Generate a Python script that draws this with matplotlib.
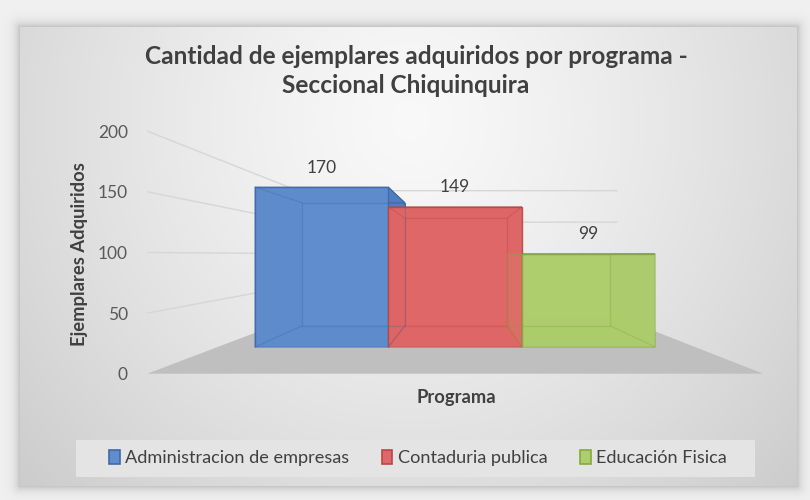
import numpy as np
import matplotlib
matplotlib.use("Agg")
import matplotlib.pyplot as plt
from matplotlib.patches import Polygon, Rectangle, Patch

# ---------------- data ----------------
categories = ["Administracion de empresas", "Contaduria publica", "Educación Fisica"]
values = [170, 149, 99]
y_ticks = [0, 50, 100, 150, 200]
title_lines = ["Cantidad de ejemplares adquiridos por programa -", "Seccional Chiquinquira"]
x_label = "Programa"
y_label = "Ejemplares Adquiridos"

# ---------------- style ----------------
face_cols = ["#5F8DCE", "#E06767", "#AECD6D"]
side_cols = ["#4F7DBE", "#CF5959", "#9CBD5D"]
edge_cols = ["#3F6AA6", "#B84747", "#86A845"]
FONT = "Lato"
plt.rcParams["font.family"] = [FONT, "DejaVu Sans"]

W, H = 810, 500
fig = plt.figure(figsize=(W / 100, H / 100), dpi=100)

# ---------------- background (frame with gradient and shadow) ----------------
bg = fig.add_axes([0, 0, 1, 1], zorder=-10)
bg.set_axis_off()
yy, xx = np.mgrid[0:H, 0:W].astype(float)
x0, x1, y0, y1 = 20, 796, 27, 485
d = np.sqrt(((xx - 410) / 420) ** 2 + ((yy - 120) / 430) ** 2)
inner = 0.975 - 0.13 * d ** 1.3
dx = np.maximum(np.maximum(x0 - xx, xx - x1), 0)
dy = np.maximum(np.maximum(y0 - yy, yy - y1), 0)
dist = np.sqrt(dx ** 2 + dy ** 2)
outside = 0.945 - 0.20 * np.exp(-dist / 5.0)
img = np.where(dist > 0, outside, inner)
bg.imshow(np.dstack([img] * 3), extent=[0, W, H, 0], aspect="auto", interpolation="bilinear")
bg.set_xlim(0, W)
bg.set_ylim(H, 0)

# ---------------- main (bar plane) axes ----------------
L_px, R_px, B_px, T_px = 255, 655, 347, 159
ax = fig.add_axes([L_px / W, (H - B_px) / H, (R_px - L_px) / W, (B_px - T_px) / H], zorder=1)
ax.set_xlim(-0.5, len(values) - 0.5)
ax.set_ylim(0, 200)
ax.set_axis_off()
ax.patch.set_alpha(0)

# perspective parameters (vanishing point in bar-plane data coords)
vpx, vpy = 1.0375, 97.9
F_FRONT, D_BACK, B_WALL = 1.29, 0.77, 0.67
xL, xR = -0.78, len(values) - 0.5 + 0.30


def proj(x, y, f):
    return vpx + (x - vpx) * f, vpy + (y - vpy) * f


# floor
floor = [proj(xL, 0, F_FRONT), proj(xR, 0, F_FRONT), proj(xR, 0, B_WALL), proj(xL, 0, B_WALL)]
ax.add_patch(Polygon(floor, closed=True, facecolor="#bfbfbf", edgecolor="none",
                     zorder=1, clip_on=False))

# gridlines on side wall + back wall
for v in y_ticks[1:]:
    p0 = proj(xL, v, F_FRONT)
    p1 = proj(xL, v, B_WALL)
    p2 = proj(xR, v, B_WALL)
    ax.plot([p0[0], p1[0], p2[0]], [p0[1], p1[1], p2[1]], color="#d6d6d6",
            lw=1.0, zorder=0.9, clip_on=False, solid_capstyle="butt")

# bar boxes: back and side faces
for i, v in enumerate(values):
    fl, fr = i - 0.5, i + 0.5
    front = [(fl, 0), (fr, 0), (fr, v), (fl, v)]
    back = [proj(x, y, D_BACK) for x, y in front]
    faces = [
        (back, face_cols[i]),
        ([front[0], front[3], back[3], back[0]], side_cols[i]),   # left
        ([front[1], front[2], back[2], back[1]], side_cols[i]),   # right
        ([front[3], front[2], back[2], back[3]], side_cols[i]),   # top
        ([front[0], front[1], back[1], back[0]], side_cols[i]),   # bottom
    ]
    for poly, col in faces:
        ax.add_patch(Polygon(poly, closed=True, facecolor=col, edgecolor=edge_cols[i],
                             lw=0.7, alpha=0.95, zorder=3, clip_on=False))
    # hidden (inner) edges seen through the translucent front face
    bx = [b[0] for b in back] + [back[0][0]]
    by = [b[1] for b in back] + [back[0][1]]
    ax.plot(bx, by, color=edge_cols[i], lw=0.9, alpha=0.3, zorder=5, clip_on=False)
    for f, b in zip(front, back):
        ax.plot([f[0], b[0]], [f[1], b[1]], color=edge_cols[i], lw=0.9, alpha=0.3,
                zorder=5, clip_on=False)

# front faces
bars = ax.bar(range(len(values)), values, width=1.0, color=face_cols,
              edgecolor=edge_cols, linewidth=1.0, alpha=0.9, zorder=4)

# data labels
for i, v in enumerate(values):
    ax.annotate(str(v), (i, v), xytext=(0, 14), textcoords="offset points",
                ha="center", va="center", color="#404040", fontsize=12.5,
                zorder=6, annotation_clip=False)

# ---------------- tick axes (front plane of the side wall) ----------------
def frac_y(yb):
    return (H - B_px) / H + yb / 200 * (B_px - T_px) / H

yb0 = proj(0, 0, F_FRONT)[1]
yb200 = proj(0, 200, F_FRONT)[1]
xfront = proj(xL, 0, F_FRONT)[0]
xfrac = L_px / W + (xfront + 0.5) / len(values) * (R_px - L_px) / W
axt = fig.add_axes([xfrac, frac_y(yb0), 0.001, frac_y(yb200) - frac_y(yb0)], zorder=2)
axt.set_ylim(0, 200)
axt.set_yticks(y_ticks)
axt.set_yticklabels([str(t) for t in y_ticks])
axt.set_xticks([])
for s in axt.spines.values():
    s.set_visible(False)
axt.patch.set_alpha(0)
axt.tick_params(axis="y", length=0, pad=14, labelsize=12.5, labelcolor="#595959")

# ---------------- texts ----------------
t1 = fig.text(416 / W, 1 - 56 / H, title_lines[0], ha="center", va="center",
              fontsize=17, fontweight="bold", color="#404040")
t2 = fig.text(406 / W, 1 - 86 / H, title_lines[1], ha="center", va="center",
              fontsize=17, fontweight="bold", color="#404040")
ty = fig.text(80 / W, 1 - 254 / H, y_label, rotation=90, ha="center", va="center",
              fontsize=12, fontweight="bold", color="#404040")
tx = fig.text(456 / W, 1 - 398 / H, x_label, ha="center", va="center",
              fontsize=12, fontweight="bold", color="#404040")

# legend box + legend
fig.patches.append(Rectangle((76 / W, (H - 477) / H), (755 - 76) / W, 37 / H,
                             transform=fig.transFigure, facecolor="#e4e4e4",
                             edgecolor="none", zorder=0))
handles = [Patch(facecolor=face_cols[i], edgecolor=edge_cols[i], linewidth=1.2,
                 label=categories[i]) for i in range(len(categories))]
leg = fig.legend(handles=handles, loc="center", bbox_to_anchor=(418 / W, 1 - 458 / H),
                 ncol=3, frameon=False, fontsize=12.5, handlelength=0.6,
                 handleheight=0.85, handletextpad=0.3, columnspacing=1.9,
                 labelcolor="#404040")

# ---------------- auto-fit text sizes to measured widths ----------------
fig.canvas.draw()
r = fig.canvas.get_renderer()


def fit_w(t, target):
    w = t.get_window_extent(r).width
    t.set_fontsize(t.get_fontsize() * target / w)


def fit_h(t, target):
    h = t.get_window_extent(r).height
    t.set_fontsize(t.get_fontsize() * target / h)


fit_w(t1, 542)
t2.set_fontsize(t1.get_fontsize())
fit_h(ty, 183)
tx.set_fontsize(ty.get_fontsize())
lt = leg.get_texts()[0]
w0 = lt.get_window_extent(r).width
fs = 12.5 * 225 / w0
for t in leg.get_texts():
    t.set_fontsize(fs)

fig.savefig("out.png", dpi=100)
